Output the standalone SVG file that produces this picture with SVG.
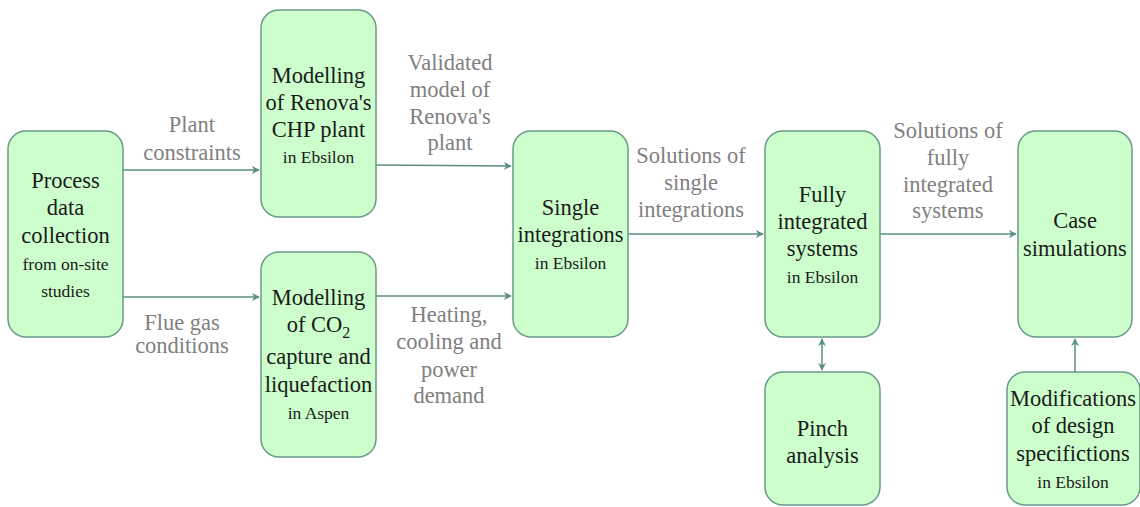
<svg xmlns="http://www.w3.org/2000/svg" width="1140" height="507" viewBox="0 0 1140 507" font-family="Liberation Serif, Times New Roman, Noto Serif, serif">
<style>
.box{fill:#ccffcc;stroke:#6a9a86;stroke-width:1.5}
.t{font-size:22.5px;fill:#1a1a1a;text-anchor:middle}
.s{font-size:17.5px}
.lab{font-size:22.5px;fill:#808080;text-anchor:middle}
.c{stroke:#5a8f86;stroke-width:1.5;fill:none}
</style>
<defs>
<marker id="ah" viewBox="0 0 10 10" refX="9" refY="5" markerWidth="8" markerHeight="8" markerUnits="userSpaceOnUse" orient="auto-start-reverse">
<path d="M0,0 L10,5 L0,10 L3,5 Z" fill="#5a8f86"/>
</marker>
</defs>
<g id="connectors">
<path class="c" d="M123,170 H259" marker-end="url(#ah)"/>
<path class="c" d="M123,297 H259" marker-end="url(#ah)"/>
<path class="c" d="M376,165 L511,166" marker-end="url(#ah)"/>
<path class="c" d="M376,296 H511" marker-end="url(#ah)"/>
<path class="c" d="M628,234 H763" marker-end="url(#ah)"/>
<path class="c" d="M880,234 H1016" marker-end="url(#ah)"/>
<path class="c" d="M822,339 V370" marker-start="url(#ah)" marker-end="url(#ah)"/>
<path class="c" d="M1075,372 V339" marker-end="url(#ah)"/>
</g>
<g id="labels">
<text class="lab" x="192" y="132">Plant</text>
<text class="lab" x="192" y="160">constraints</text>
<text class="lab" x="182" y="330">Flue gas</text>
<text class="lab" x="182" y="353">conditions</text>
<text class="lab" x="450" y="70">Validated</text>
<text class="lab" x="450" y="97">model of</text>
<text class="lab" x="450" y="124">Renova's</text>
<text class="lab" x="450" y="150">plant</text>
<text class="lab" x="449" y="322">Heating,</text>
<text class="lab" x="449" y="349">cooling and</text>
<text class="lab" x="449" y="377">power</text>
<text class="lab" x="449" y="403">demand</text>
<text class="lab" x="691" y="163">Solutions of</text>
<text class="lab" x="691" y="190">single</text>
<text class="lab" x="691" y="217">integrations</text>
<text class="lab" x="948" y="138">Solutions of</text>
<text class="lab" x="948" y="165">fully</text>
<text class="lab" x="948" y="192">integrated</text>
<text class="lab" x="948" y="218">systems</text>
</g>
<g id="process-data">
<rect class="box" x="8" y="131" width="115" height="206" rx="18"/>
<text class="t" x="65.5" y="188">Process</text>
<text class="t" x="65.5" y="215">data</text>
<text class="t" x="65.5" y="243">collection</text>
<text class="t s" x="65.5" y="270">from on-site</text>
<text class="t s" x="65.5" y="297">studies</text>
</g>
<g id="chp-model">
<rect class="box" x="261" y="10" width="115" height="207" rx="18"/>
<text class="t" x="318.5" y="83">Modelling</text>
<text class="t" x="318.5" y="110">of Renova's</text>
<text class="t" x="318.5" y="137">CHP plant</text>
<text class="t s" x="318.5" y="163">in Ebsilon</text>
</g>
<g id="co2-model">
<rect class="box" x="261" y="252" width="115" height="205" rx="18"/>
<text class="t" x="318.5" y="305">Modelling</text>
<text class="t" x="318.5" y="332">of CO<tspan font-size="16" dy="6">2</tspan></text>
<text class="t" x="318.5" y="364">capture and</text>
<text class="t" x="318.5" y="392">liquefaction</text>
<text class="t s" x="318.5" y="419">in Aspen</text>
</g>
<g id="single-integrations">
<rect class="box" x="513" y="131" width="115" height="206" rx="18"/>
<text class="t" x="570.5" y="215">Single</text>
<text class="t" x="570.5" y="242">integrations</text>
<text class="t s" x="570.5" y="269">in Ebsilon</text>
</g>
<g id="fully-integrated">
<rect class="box" x="765" y="131" width="115" height="206" rx="18"/>
<text class="t" x="822.5" y="202">Fully</text>
<text class="t" x="822.5" y="229">integrated</text>
<text class="t" x="822.5" y="256">systems</text>
<text class="t s" x="822.5" y="283">in Ebsilon</text>
</g>
<g id="case-simulations">
<rect class="box" x="1018" y="131" width="114" height="206" rx="18"/>
<text class="t" x="1075" y="228">Case</text>
<text class="t" x="1075" y="256">simulations</text>
</g>
<g id="pinch-analysis">
<rect class="box" x="765" y="372" width="115" height="133" rx="18"/>
<text class="t" x="822.5" y="436">Pinch</text>
<text class="t" x="822.5" y="463">analysis</text>
</g>
<g id="modifications">
<rect class="box" x="1007" y="372" width="133" height="133" rx="18"/>
<text class="t" x="1073" y="406">Modifications</text>
<text class="t" x="1073" y="433">of design</text>
<text class="t" x="1073" y="461">specifictions</text>
<text class="t s" x="1073" y="488">in Ebsilon</text>
</g>
</svg>
